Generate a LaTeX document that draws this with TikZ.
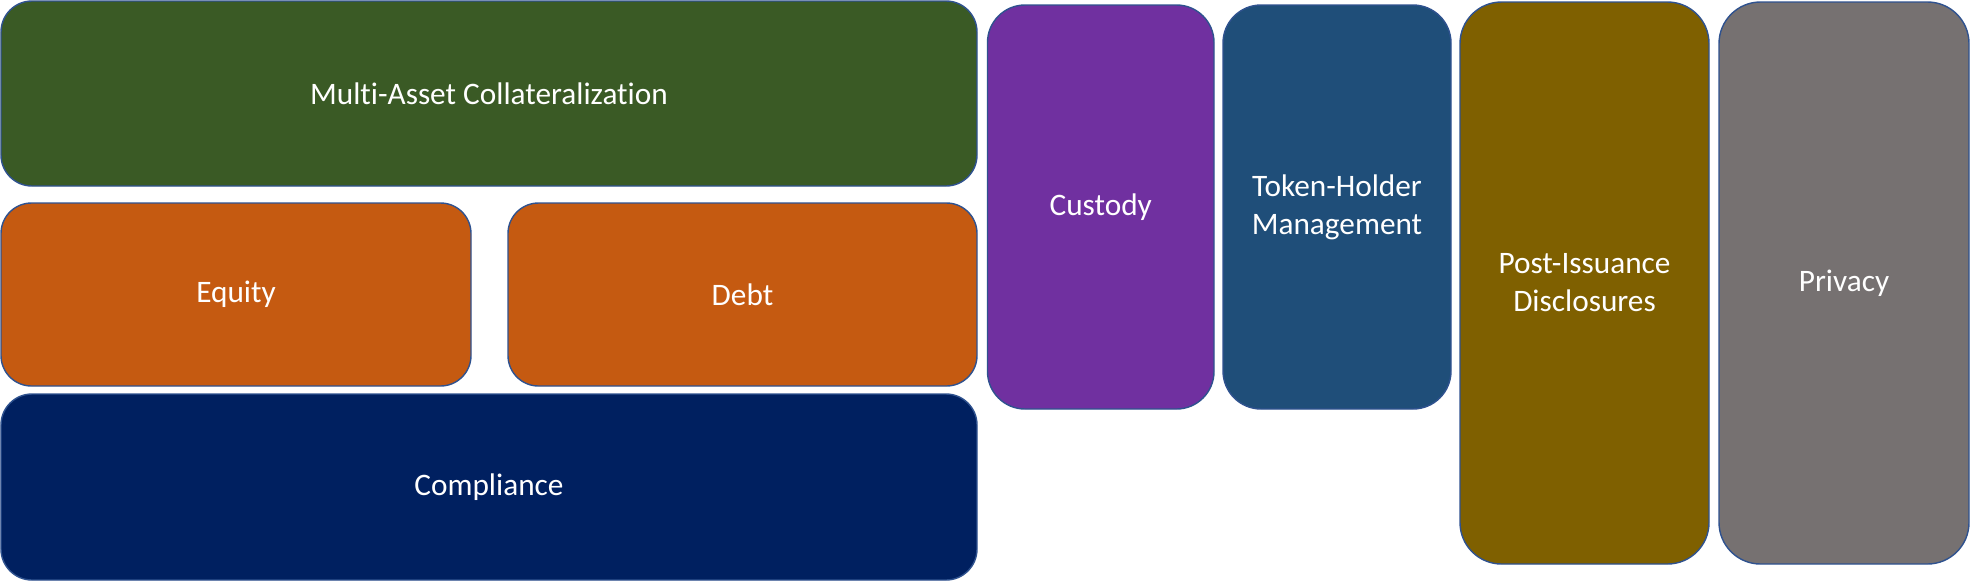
\documentclass[tikz,border=0pt]{standalone}
\usepackage{fontspec}
\setmainfont{Carlito}[Ligatures=NoCommon]
\definecolor{edgeblue}{HTML}{2F528F}
\definecolor{multigreen}{HTML}{3A5A25}
\definecolor{assetorange}{HTML}{C55A11}
\definecolor{compnavy}{HTML}{002060}
\definecolor{custpurple}{HTML}{7030A0}
\definecolor{tokenblue}{HTML}{1F4E79}
\definecolor{postolive}{HTML}{7F6000}
\definecolor{privgray}{HTML}{767171}
\begin{document}
\begin{tikzpicture}[tile/.style={draw=edgeblue, line width=0.8pt, text=white, align=center, inner sep=0pt, font=\fontsize{17.8}{21.7}\selectfont}]
\useasboundingbox (0,0) rectangle (39.4,-11.62);
% left block
\node[tile, fill=multigreen, rounded corners=0.62cm, minimum width=19.52cm, minimum height=3.70cm] (multi) at (9.78,-1.87) {Multi-Asset Collateralization};
\node[tile, fill=assetorange, rounded corners=0.61cm, minimum width=9.40cm, minimum height=3.66cm] (equity) at (4.72,-5.89) {Equity};
\node[tile, fill=assetorange, rounded corners=0.61cm, minimum width=9.38cm, minimum height=3.66cm] (debt) at (14.85,-5.89) {Debt};
\node[tile, fill=compnavy, rounded corners=0.62cm, minimum width=19.52cm, minimum height=3.72cm] (compliance) at (9.78,-9.74) {Compliance};
% columns
\node[tile, fill=custpurple, rounded corners=0.75cm, minimum width=4.53cm, minimum height=8.08cm] (custody) at (22.015,-4.14) {Custody};
\node[tile, fill=tokenblue, rounded corners=0.76cm, minimum width=4.56cm, minimum height=8.08cm] (token) at (26.74,-4.14) {Token-Holder\\Management};
\node[tile, fill=postolive, rounded corners=0.83cm, minimum width=4.98cm, minimum height=11.24cm] (post) at (31.69,-5.66) {Post-Issuance\\Disclosures};
\node[tile, fill=privgray, rounded corners=0.83cm, minimum width=5.00cm, minimum height=11.24cm] (privacy) at (36.88,-5.66) {Privacy};
\end{tikzpicture}
\end{document}
